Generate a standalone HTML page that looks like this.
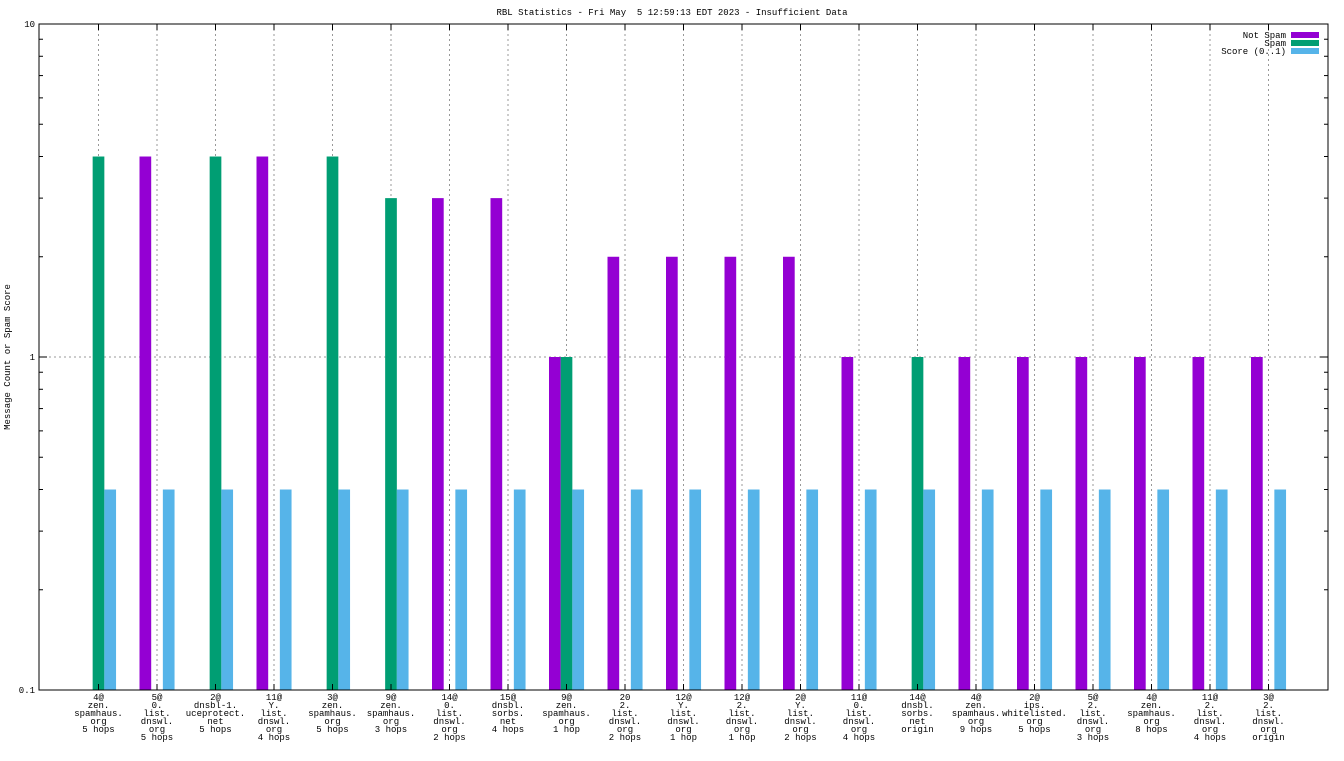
<!DOCTYPE html>
<html><head><meta charset="utf-8"><style>
body{margin:0;background:#fff}
svg text{font-family:"Liberation Mono","DejaVu Sans Mono",monospace;font-size:9px;fill:#000}
</style></head><body>
<svg id="c" width="1344" height="756" xmlns="http://www.w3.org/2000/svg">
<rect width="1344" height="756" fill="#fff"/>
<text x="672" y="15" text-anchor="middle">RBL Statistics - Fri May &#160;5 12:59:13 EDT 2023 - Insufficient Data</text>
<text transform="translate(10,357) rotate(-90)" text-anchor="middle">Message Count or Spam Score</text>
<g id="grid"></g><g id="bars"></g><g id="axes"></g><g id="labels"></g>
<g>
<text x="1286" y="38" text-anchor="end">Not Spam</text>
<rect x="1291" y="32" width="28" height="6" fill="#9400d3"/>
<text x="1286" y="46" text-anchor="end">Spam</text>
<rect x="1291" y="40" width="28" height="6" fill="#009e73"/>
<text x="1286" y="54" text-anchor="end">Score (0..1)</text>
<rect x="1291" y="48" width="28" height="6" fill="#56b4e9"/>
</g>
</svg>
<script>
const categories=[
["4@","zen.","spamhaus.","org","5 hops"],["5@","0.","list.","dnswl.","org","5 hops"],["2@","dnsbl-1.","uceprotect.","net","5 hops"],
["11@","Y.","list.","dnswl.","org","4 hops"],["3@","zen.","spamhaus.","org","5 hops"],["9@","zen.","spamhaus.","org","3 hops"],
["14@","0.","list.","dnswl.","org","2 hops"],["15@","dnsbl.","sorbs.","net","4 hops"],["9@","zen.","spamhaus.","org","1 hop"],
["20","2.","list.","dnswl.","org","2 hops"],["12@","Y.","list.","dnswl.","org","1 hop"],["12@","2.","list.","dnswl.","org","1 hop"],
["2@","Y.","list.","dnswl.","org","2 hops"],["11@","0.","list.","dnswl.","org","4 hops"],["14@","dnsbl.","sorbs.","net","origin"],
["4@","zen.","spamhaus.","org","9 hops"],["2@","ips.","whitelisted.","org","5 hops"],["5@","2.","list.","dnswl.","org","3 hops"],
["4@","zen.","spamhaus.","org","8 hops"],["11@","2.","list.","dnswl.","org","4 hops"],["3@","2.","list.","dnswl.","org","origin"]];
const notSpam=[0,4,0,4,0,0,3,3,1,2,2,2,2,1,0,1,1,1,1,1,1];
const spam=[4,0,4,0,4,3,0,0,1,0,0,0,0,0,1,0,0,0,0,0,0];
const score=[0.4,0.4,0.4,0.4,0.4,0.4,0.4,0.4,0.4,0.4,0.4,0.4,0.4,0.4,0.4,0.4,0.4,0.4,0.4,0.4,0.4];
const yTicks=[0.1,1,10];
const L=39,R=1328,T=24,B=690;
const NS="http://www.w3.org/2000/svg";
function y(v){return B-(Math.log10(v)+1)/2*(B-T);}
function x(i){return 98.5+i*58.5;}
function mk(t,a,p){const e=document.createElementNS(NS,t);for(const k in a)e.setAttribute(k,a[k]);p.appendChild(e);return e;}
const grid=document.getElementById('grid'),bars=document.getElementById('bars'),axes=document.getElementById('axes'),labels=document.getElementById('labels');
categories.forEach((c,i)=>{
 const g=mk('line',{x1:x(i),x2:x(i),y1:T,y2:B,stroke:'#999','stroke-dasharray':'2,3','stroke-width':1},grid);
 
 
 const tk=mk('line',{x1:x(i),x2:x(i),y1:B,y2:B-6,stroke:'#000'},axes);
 
 
 const tk2=mk('line',{x1:x(i),x2:x(i),y1:T,y2:T+6,stroke:'#000'},axes);
 
 
 const t=mk('text',{x:x(i),'text-anchor':'middle'},labels);
 
 
 c.forEach((s,j)=>{const sp=mk('tspan',{x:x(i),y:700+j*8},t);sp.textContent=s;});
 const w=11.7;
 [[notSpam,'#9400d3',-17.5,'bar-not-spam'],[spam,'#009e73',-5.85,'bar-spam'],[score,'#56b4e9',5.85,'bar-score']].forEach(([arr,col,off,nm])=>{
  const v=arr[i]; if(v<=0.1) return;
  const r=mk('rect',{x:x(i)+off,y:y(v),width:w,height:B-y(v),fill:col},bars);
  
  
 });
});
yTicks.forEach(v=>{
 if(v>0.1&&v<10){const g=mk('line',{x1:L,x2:R,y1:y(v),y2:y(v),stroke:'#999','stroke-dasharray':'2,3'},grid);
  
  }
 const t=mk('text',{x:L-4,y:y(v)+3,'text-anchor':'end'},axes);
 
 
 t.textContent=String(v);
});
for(let d=0.1;d<10;d*=10){for(let m=1;m<10;m++){const v=d*m;const len=m==1?8:4;const yy=y(v);
 const a=mk('line',{x1:L,x2:L+len,y1:yy,y2:yy,stroke:'#000'},axes);
 
 
 const b=mk('line',{x1:R,x2:R-len,y1:yy,y2:yy,stroke:'#000'},axes);
 
 }}
const f=mk('rect',{x:L,y:T,width:R-L,height:B-T,fill:'none',stroke:'#000','stroke-width':1},axes);


</script>
</body></html>
